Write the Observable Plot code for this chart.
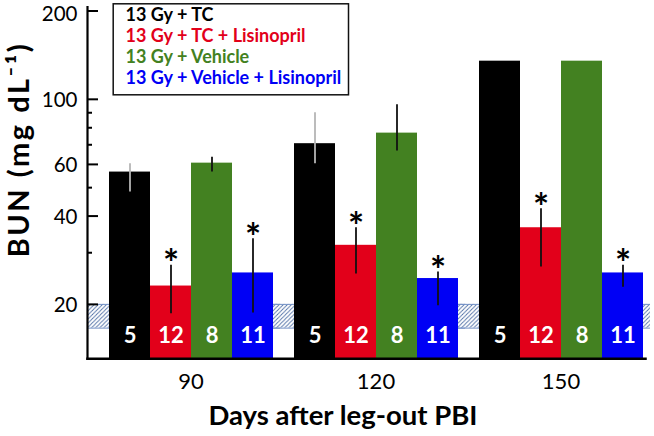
<!DOCTYPE html>
<html>
<head>
<meta charset="utf-8">
<script src="https://cdn.jsdelivr.net/npm/d3@7"></script>
<script src="https://cdn.jsdelivr.net/npm/@observablehq/plot@0.6"></script>
<style>
  html, body { margin: 0; padding: 0; background: #fff; }
</style>
</head>
<body>
<div id="chart"></div>
<script>
// ---- data ----
const days = [90, 120, 150];
const groups = ["13 Gy + TC", "13 Gy + TC + Lisinopril", "13 Gy + Vehicle", "13 Gy + Vehicle + Lisinopril"];
const groupColors = ["#000000", "#e2001a", "#438121", "#0000f5"];
const nAnimals = [5, 12, 8, 11];
const bunTC        = [56.5, 70.6, 134.9];
const bunTCLis     = [23.1, 31.8, 36.5];
const bunVeh       = [60.6, 76.7, 134.9];
const bunVehLis    = [25.6, 24.5, 25.6];
const hiTC         = [60.3, 90.0, null];
const loTC         = [48.3, 60.3, null];
const hiTCLis      = [27.2, 36.5, 42.4];
const loTCLis      = [18.6, 25.4, 26.8];
const hiVeh        = [63.5, 95.8, null];
const loVeh        = [56.5, 66.6, null];
const hiVehLis     = [33.5, 25.8, 27.2];
const loVehLis     = [18.7, 19.8, 22.9];
const significant  = [false, true, false, true];
const normalRange  = [16.6, 20];
const yTicksMajor  = [20, 40, 60, 100, 200];
const yTicksMinor  = [30, 50, 70, 80, 90];
const yDomain      = [13.05, 200];
const yLabel = "BUN (mg dL\u207B\u00B9)";
const xLabel = "Days after leg-out PBI";

const values = [bunTC, bunTCLis, bunVeh, bunVehLis];
const his = [hiTC, hiTCLis, hiVeh, hiVehLis];
const los = [loTC, loTCLis, loVeh, loVehLis];
const rows = [];
groups.forEach((g, gi) => days.forEach((day, di) => rows.push({
  day, group: g, value: values[gi][di], hi: his[gi][di], lo: los[gi][di], n: nAnimals[gi], sig: significant[gi]
})));

const ML = 98, MR = 1, MT = 10.5, MB = 77.7;
const font = "Lato";

const legendMarks = groups.map((g, i) => Plot.text([g], {
  facet: "super", frameAnchor: "top-left", text: d => d, dx: 27, dy: 4.5 + i * 21,
  textAnchor: "start", lineAnchor: "middle", fill: groupColors[i], fontWeight: "bold", fontSize: 18
}));

const topTick = yTicksMajor[yTicksMajor.length - 1];

const chart = Plot.plot({
  width: 654, height: 436,
  marginLeft: ML, marginRight: MR, marginTop: MT, marginBottom: MB,
  style: { fontFamily: font, background: "white", color: "black", overflow: "visible" },
  fx: { domain: days, padding: 0, label: null },
  x: { domain: groups, paddingInner: 0, paddingOuter: 0.2424, axis: null },
  y: { type: "log", domain: yDomain },
  color: { domain: groups, range: groupColors },
  marks: [
    Plot.rectY([normalRange], { y1: d => d[0], y2: d => d[1], fill: "url(#hatch)", insetLeft: -11, insetRight: 3 }),
    Plot.ruleY(normalRange, { stroke: "#7592c6", strokeWidth: 1, insetLeft: -11, insetRight: 3 }),
    Plot.barY(rows, { fx: "day", x: "group", y1: yDomain[0], y2: "value", fill: "group" }),
    Plot.ruleX(rows.filter(d => d.hi != null && d.group === groups[0]), { fx: "day", x: "group", y1: "lo", y2: "hi", stroke: "#b5b5b5", strokeWidth: 1.8 }),
    Plot.ruleX(rows.filter(d => d.hi != null && d.group !== groups[0]), { fx: "day", x: "group", y1: "lo", y2: "hi", stroke: "#111", strokeWidth: 1.8 }),
    Plot.text(rows, { fx: "day", x: "group", y: yDomain[0], text: "n", dy: -23, fill: "white", fontWeight: "bold", fontSize: 22 }),
    Plot.text(rows.filter(d => d.sig), { fx: "day", x: "group", y: "hi", text: () => "*", dy: 0, fontWeight: "bold", fontSize: 38 }),
    Plot.axisY({ ticks: yTicksMajor, tickSize: -11, tickFormat: () => "", strokeWidth: 2, dx: -11, label: null }),
    Plot.axisY({ ticks: yTicksMinor, tickSize: -5, tickFormat: () => "", strokeWidth: 2, dx: -11, label: null }),
    Plot.axisY({ ticks: yTicksMajor.filter(t => t !== topTick), tickSize: 0, tickPadding: 10, tickFormat: d => String(d), fontSize: 20.5, dx: -11, dy: 1, label: null }),
    Plot.axisY({ ticks: [topTick], tickSize: 0, tickPadding: 10, tickFormat: d => String(d), fontSize: 20.5, dx: -11, dy: 3.2, label: null }),
    Plot.axisFx({ anchor: "bottom", tickSize: 0, tickPadding: 14.6, fontSize: 22, label: null, tickFormat: d => String(d) }),
    Plot.frame({ facet: "super", anchor: "left", insetLeft: -11, insetTop: -4, strokeWidth: 2.2 }),
    Plot.frame({ facet: "super", anchor: "bottom", insetLeft: -11, insetRight: 8, strokeWidth: 2.5 }),
    Plot.frame({ facet: "super", insetLeft: 14.7, insetTop: -7.2, insetRight: 305, insetBottom: 264, stroke: "#111", strokeWidth: 1.5 }),
    ...legendMarks,
    Plot.text([yLabel], { facet: "super", frameAnchor: "left", text: d => d, rotate: -90, dx: -78.3, dy: -35.4, fontWeight: "bold", fontSize: 29, textAnchor: "middle", lineAnchor: "middle" }),
    Plot.text([xLabel], { facet: "super", frameAnchor: "bottom", text: d => d, dx: -33, dy: 57, fontWeight: "bold", fontSize: 27.5, textAnchor: "middle", lineAnchor: "middle" })
  ]
});

// hatch pattern for the normal-range band, and letter spacing for the y title
const svg = chart.tagName.toLowerCase() === "svg" ? chart : chart.querySelector("svg");
const p = 185 / 45;
const defs = d3.select(svg).insert("defs", ":first-child");
const pat = defs.append("pattern").attr("id", "hatch").attr("patternUnits", "userSpaceOnUse")
  .attr("width", p).attr("height", p);
pat.append("rect").attr("width", p).attr("height", p).attr("fill", "#fff");
pat.append("path").attr("d", `M0,${p} L${p},0 M${-p/2},${p/2} L${p/2},${-p/2} M${p/2},${1.5*p} L${1.5*p},${p/2}`)
  .attr("stroke", "#4f6fa6").attr("stroke-width", 0.9);
d3.select(svg).selectAll("text").filter(function() { return this.textContent === yLabel; })
  .style("letter-spacing", "2.5px");

document.getElementById("chart").appendChild(chart);
</script>
</body>
</html>
